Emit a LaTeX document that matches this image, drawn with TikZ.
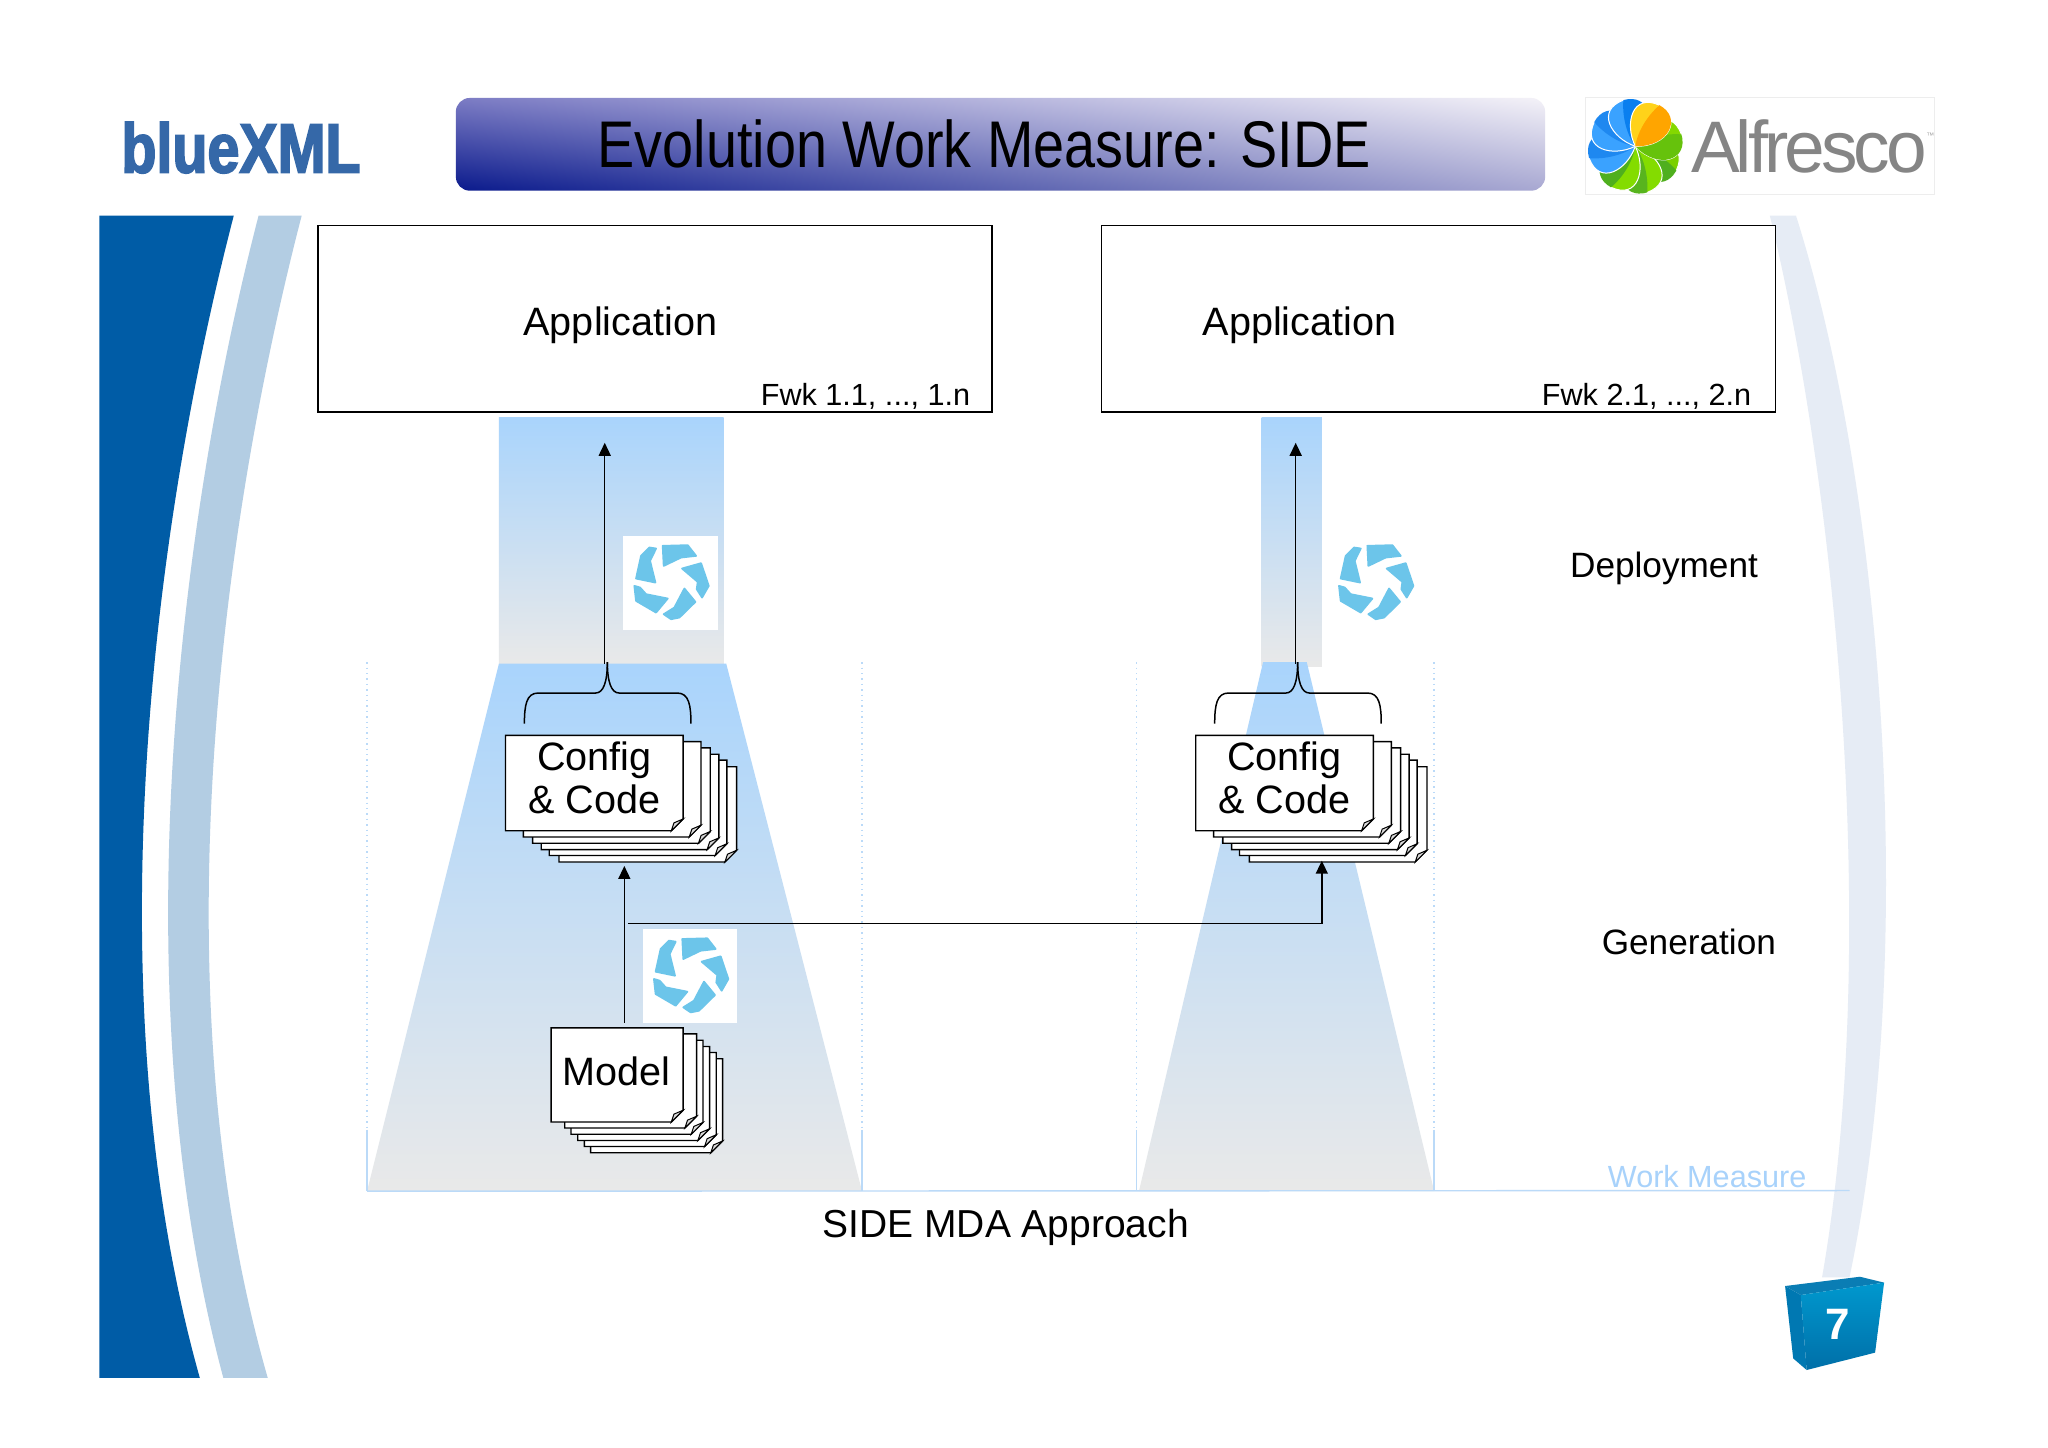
\documentclass[tikz,border=0pt]{standalone}
\usepackage{fontspec}
\usetikzlibrary{arrows.meta,calc,shadings}
\setmainfont{Liberation Sans}
\newfontfamily\titlefont[FakeStretch=0.845]{Liberation Sans}
\newfontfamily\logofont[BoldFeatures={FakeStretch=0.82,FakeBold=2.5}]{Liberation Sans}
\newfontfamily\alffont[LetterSpace=-5.5]{Liberation Sans}
\definecolor{bandDark}{HTML}{005CA6}
\definecolor{bandLight}{HTML}{B3CDE3}
\definecolor{bandPale}{HTML}{E6ECF5}
\definecolor{skyTop}{HTML}{A9D4FC}
\definecolor{skyEnd}{HTML}{E9E9E9}
\definecolor{axisBlue}{HTML}{BBDAF8}
\definecolor{measureBlue}{HTML}{A8D2FB}
\definecolor{iconBlue}{HTML}{6CC5EA}
\definecolor{logoBlue}{HTML}{3568A8}
\definecolor{titleUL}{HTML}{7C7CC4}
\definecolor{titleLL}{HTML}{0A1A8C}
\definecolor{titleUR}{HTML}{F4F2F8}
\definecolor{titleLR}{HTML}{A8A8D2}
\definecolor{alfGray}{HTML}{858585}
\definecolor{cubeTop}{HTML}{0A7DB4}
\definecolor{cubeSide}{HTML}{0078B2}
\definecolor{cubeHi}{HTML}{0098CE}
\definecolor{cubeLo}{HTML}{006FA8}
\tikzset{
  label20/.style={inner sep=0pt,font=\fontsize{19.8}{21.6}\selectfont,align=center},
  label18/.style={inner sep=0pt,font=\fontsize{17.6}{20}\selectfont},
  label15/.style={inner sep=0pt,font=\fontsize{15.3}{18}\selectfont},
  appbox/.style={draw=black,line width=0.7pt,fill=white},
  sky/.style={top color=skyTop,bottom color=skyEnd},
  axisdot/.style={draw=axisBlue,line width=0.7pt,dotted},
  axisline/.style={draw=axisBlue,line width=0.7pt},
  conn/.style={draw=black,line width=0.75pt},
  connarrow/.style={conn,-{Triangle[width=6pt,length=6.5pt]}},
  paper/.style={draw=black,line width=0.7pt,fill=white,line join=miter},
  blade/.style={fill=iconBlue,draw=iconBlue,line width=0.9pt,line join=round},
}
\newcommand\stackpage[4]{%
  \draw[paper] (#1,#2) -- ({#1+#3},#2) -- ({#1+#3},{#2+#4-9}) -- ({#1+#3-9},{#2+#4}) -- (#1,{#2+#4}) -- cycle;
  \draw[draw=black,line width=0.5pt,fill=black!15] ({#1+#3},{#2+#4-9}) -- ({#1+#3-7},{#2+#4-6}) -- ({#1+#3-9},{#2+#4}) -- cycle;
}
\newcommand\configstack[2]{%
  \stackpage{#1+41}{#2+24}{136}{73}
  \stackpage{#1+33.5}{#2+19}{136}{73}
  \stackpage{#1+27.4}{#2+14.5}{136}{73}
  \stackpage{#1+20.8}{#2+9.6}{136}{73}
  \stackpage{#1+13.7}{#2+4.8}{136}{73}
  \stackpage{#1}{#2}{136}{73}
}
\newcommand\modelstack[2]{%
  \stackpage{#1+30.2}{#2+23.6}{101}{72}
  \stackpage{#1+25.4}{#2+18.8}{101}{72}
  \stackpage{#1+20.3}{#2+14.2}{101}{72}
  \stackpage{#1+15.2}{#2+9.4}{101}{72}
  \stackpage{#1+10.4}{#2+4.6}{101}{72}
  \stackpage{#1}{#2}{101}{72}
}
\newcommand\pinwheel[2]{%
  \begin{scope}[shift={(#1,#2)},x=0.1667pt,y=-0.1667pt]
    \filldraw[blade] (-20,-110) -- (55,-112) -- (80,-80) -- (35,-75) -- (-17,-50) -- cycle;
    \filldraw[blade] (38,-42) -- (95,-58) -- (118,10) -- (98,45) -- (82,20) -- (85,-2) -- cycle;
    \filldraw[blade] (45,18) -- (78,58) -- (30,105) -- (5,110) -- (-17,95) -- (15,75) -- cycle;
    \filldraw[blade] (-105,10) -- (-88,15) -- (-70,35) -- (-5,48) -- (-40,90) -- (-100,55) -- cycle;
    \filldraw[blade] (-60,-105) -- (-40,-102) -- (-58,-65) -- (-42,0) -- (-100,-12) -- (-85,-80) -- cycle;
  \end{scope}
}
\newcommand\petal[3]{%
  \definecolor{petalA}{HTML}{#2}\definecolor{petalB}{HTML}{#3}%
  \begin{scope}[rotate=#1]
    \filldraw[draw=white,line width=0.5pt,fill=petalA] (0,0) .. controls (-18,8) and (-28,30) .. (-6,36) .. controls (14,40) and (20,16) .. (0,0);
    \fill[petalB] (0,0) .. controls (-6,10) and (-8,24) .. (-6,36) .. controls (14,40) and (20,16) .. (0,0);
  \end{scope}
}
\begin{document}
\begin{tikzpicture}[x=0.65306pt,y=-0.65306pt]
\useasboundingbox (0,0) rectangle (1568,1107.9);
\fill[white] (0,0) rectangle (1568,1107.9);

% side bands
\fill[bandDark] (76,165) -- (179,165) .. controls (118,400) and (70,760) .. (153,1055) -- (76,1055) -- cycle;
\fill[bandLight] (198,165) -- (231,165) .. controls (170,400) and (120,760) .. (205,1055) -- (171,1055) .. controls (92,760) and (137,400) .. (198,165) -- cycle;
\fill[bandPale] (1355,165) -- (1375,165) .. controls (1440,370) and (1470,720) .. (1416,978) -- (1395,978) .. controls (1440,720) and (1405,370) .. (1355,165) -- cycle;

% title bar
\shade[rounded corners=7pt,upper left=titleUL,lower left=titleLL,upper right=titleUR,lower right=titleLR] (349,75) rectangle (1183,146);
\node[inner sep=0pt,font=\fontsize{33}{36}\titlefont] (title) at (753.5,110.5) {Evolution Work Measure: SIDE};

% blueXML logo
\node[inner sep=0pt,text=logoBlue,font=\fontsize{35}{38}\logofont\bfseries] (bluexml) at (184.5,113) {blueXML};

% Alfresco logo
\draw[black!7,line width=0.5pt] (1214,75) rectangle (1481,149);
\begin{scope}[shift={(1252,112)},x=0.65306pt,y=0.65306pt]
  \petal{-130}{7AD000}{4FAF1E}
  \petal{-175}{84DC00}{58B41E}
  \petal{140}{84DC00}{4FAF1E}
  \petal{95}{3AA2FF}{1E88F0}
  \petal{50}{3AA2FF}{1E88F0}
  \petal{5}{3AA2FF}{0A7FEF}
  \petal{-85}{84D800}{66C20C}
  \petal{-40}{FFD21A}{FFA500}
\end{scope}
\node[inner sep=0pt,text=alfGray,font=\fontsize{36.5}{38}\alffont] (alfresco) at (1385,112) {Alfresco};
\node[inner sep=0pt,text=black!35,font=\fontsize{4}{5}\selectfont] (tm) at (1478,104) {™};

% deployment rectangles and generation trapezoids
\shade[sky] (382,320) rectangle (554,509);
\shade[sky] (966,320) rectangle (1012,510.5);
\shade[sky] (382,508) -- (556,508) -- (660,912) -- (281,912) -- cycle;
\shade[sky] (967,507) -- (1000.5,507) -- (1098,912) -- (872,912) -- cycle;

% axes
\coordinate (ax1t) at (281,507); \coordinate (ax1m) at (281,865); \coordinate (ax1b) at (281,912);
\coordinate (ax2t) at (660,507); \coordinate (ax2m) at (660,865); \coordinate (ax2b) at (660,912);
\coordinate (ax3t) at (870,507); \coordinate (ax3m) at (870,865); \coordinate (ax3b) at (870,912);
\coordinate (ax4t) at (1098,507); \coordinate (ax4m) at (1098,865); \coordinate (ax4b) at (1098,912);
\coordinate (axend) at (1416,911.5);
\draw[axisdot] (ax1t) -- (ax1m); \draw[axisline] (ax1m) -- (ax1b);
\draw[axisdot] (ax2t) -- (ax2m); \draw[axisline] (ax2m) -- (ax2b);
\draw[axisdot] (ax3t) -- (ax3m); \draw[axisline] (ax3m) -- (ax3b);
\draw[axisdot] (ax4t) -- (ax4m); \draw[axisline] (ax4m) -- (ax4b);
\draw[axisline] (ax1b) -- (axend);

% application boxes
\node[appbox,minimum width=337pt,minimum height=93.4pt,inner sep=0pt,anchor=north west] (app1) at (243,172) {};
\node[appbox,minimum width=337pt,minimum height=93.4pt,inner sep=0pt,anchor=north west] (app2) at (843,172) {};
\node[label20] (applbl1) at (475,249) {Application};
\node[label20] (applbl2) at (995,249) {Application};
\node[label15,anchor=base east] (fwk1) at (743,310.5) {Fwk 1.1, ..., 1.n};
\node[label15,anchor=base east] (fwk2) at (1341,310.5) {Fwk 2.1, ..., 2.n};

% icons
\fill[white] (477,410) rectangle (550,482);
\pinwheel{512.5}{446}
\fill[white] (492,711) rectangle (564,783);
\pinwheel{527.5}{747}
\pinwheel{1052}{446}

% stacks
\configstack{387}{563}
\configstack{915.5}{563}
\modelstack{422}{787}
\node[label20] (cfg1) at (455,595.5) {Config\\\& Code};
\node[label20] (cfg2) at (983.5,595.5) {Config\\\& Code};
\node[label20] (model) at (472,820) {Model};

% connectors
\coordinate (up1s) at (463,508); \coordinate (up1e) at (463,339);
\coordinate (up2s) at (992,508); \coordinate (up2e) at (992,339);
\coordinate (gens) at (478,783); \coordinate (gene) at (478,663);
\coordinate (xs) at (481,707); \coordinate (xc) at (1012,707); \coordinate (xe) at (1012,659);
\draw[connarrow] (up1s) -- (up1e);
\draw[connarrow] (up2s) -- (up2e);
\draw[connarrow] (gens) -- (gene);
\draw[connarrow] (xs) -- (xc) -- (xe);

% braces
\coordinate (br1l) at (401.5,554); \coordinate (br1r) at (529,554); \coordinate (br1t) at (465,507);
\coordinate (br2l) at (930,554); \coordinate (br2r) at (1057.5,554); \coordinate (br2t) at (993.5,507);
\draw[conn] (br1l) .. controls (401.5,540) and (403,530.6) .. (412,530.6) -- (456,530.6) .. controls (462,530.6) and (465,522) .. (br1t);
\draw[conn] (br1r) .. controls (529,540) and (527.5,530.6) .. (518.5,530.6) -- (474,530.6) .. controls (468,530.6) and (465,522) .. (br1t);
\draw[conn] (br2l) .. controls (930,540) and (931.5,530.6) .. (940.5,530.6) -- (984.5,530.6) .. controls (990.5,530.6) and (993.5,522) .. (br2t);
\draw[conn] (br2r) .. controls (1057.5,540) and (1056,530.6) .. (1047,530.6) -- (1002.5,530.6) .. controls (996.5,530.6) and (993.5,522) .. (br2t);

% side labels
\node[label18] (deploy) at (1274,435) {Deployment};
\node[label18] (gen) at (1293,721) {Generation};
\node[label15,text=measureBlue] (wm) at (1307,900.5) {Work Measure};
\node[label20,font=\fontsize{19.5}{21.6}\selectfont] (side) at (770,940) {SIDE MDA Approach};

% page cube
\fill[cubeTop] (1366.7,984.6) -- (1424,977.5) -- (1442.5,982) -- (1378.7,991.5) -- cycle;
\fill[cubeSide] (1366.7,984.6) -- (1378.7,991.5) -- (1383.2,1048.9) -- (1372.9,1040) -- cycle;
\shade[top color=cubeHi,bottom color=cubeLo] (1378.7,991.5) -- (1442.5,982) -- (1435.6,1035.6) -- (1383.2,1048.9) -- cycle;
\node[inner sep=0pt,text=white,font=\fontsize{22}{24}\bfseries] (pg) at (1407,1014) {7};
\end{tikzpicture}
\end{document}
